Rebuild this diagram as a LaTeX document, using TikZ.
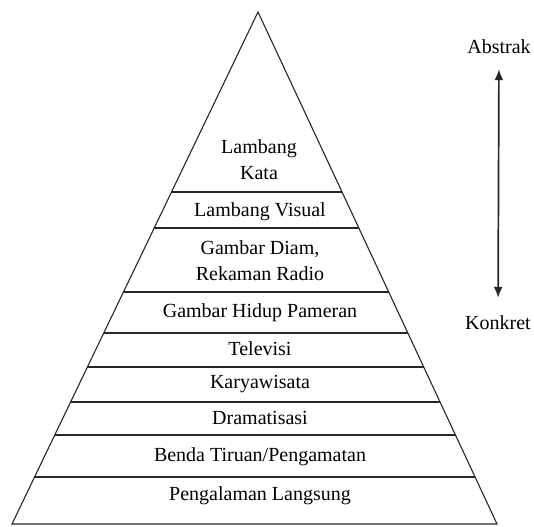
\documentclass[tikz,border=0pt]{standalone}
\usepackage{fontspec}
\setmainfont{Liberation Serif}
\usetikzlibrary{arrows.meta}
\tikzstyle{level}=[align=center, inner sep=0pt]
\tikzstyle{side}=[inner sep=0pt]
\tikzstyle{edge}=[line width=1.1pt, black!85]

\begin{document}
\begin{tikzpicture}[x=1pt, y=-1pt, font=\fontsize{20}{26}\selectfont]
    \useasboundingbox (0,0) rectangle (534,526);
    \coordinate (top) at (258,12);
    \coordinate (bl) at (12,524);
    \coordinate (br) at (497,524);
    \draw[edge, line join=miter] (top) -- (bl) -- (br) -- cycle;
    \begin{scope}
        \clip (top) -- (bl) -- (br) -- cycle;
        \foreach \y in {192,228,292,333,367,402,435,477}
            \draw[edge] (0,\y) -- (534,\y);
    \end{scope}
    \node[level] (kata) at (259,160) {Lambang\\Kata};
    \node[level] (visual) at (260,212) {Lambang Visual};
    \node[level] (diam) at (260,261) {Gambar Diam,\\Rekaman Radio};
    \node[level] (hidup) at (260,313) {Gambar Hidup Pameran};
    \node[level] (tv) at (260,349) {Televisi};
    \node[level] (karya) at (260,384) {Karyawisata};
    \node[level] (drama) at (260,418) {Dramatisasi};
    \node[level] (benda) at (260,457) {Benda Tiruan/Pengamatan};
    \node[level] (langsung) at (260,496) {Pengalaman Langsung};
    \node[side] (abs) at (499,47) {Abstrak};
    \node[side] (kon) at (498,323) {Konkret};
    \draw[line width=1.7pt, black!85, {Latex[length=11pt,width=9pt]}-{Latex[length=11pt,width=9pt]},
        shorten <=15pt, shorten >=18pt] (abs) -- (kon);
\end{tikzpicture}
\end{document}
